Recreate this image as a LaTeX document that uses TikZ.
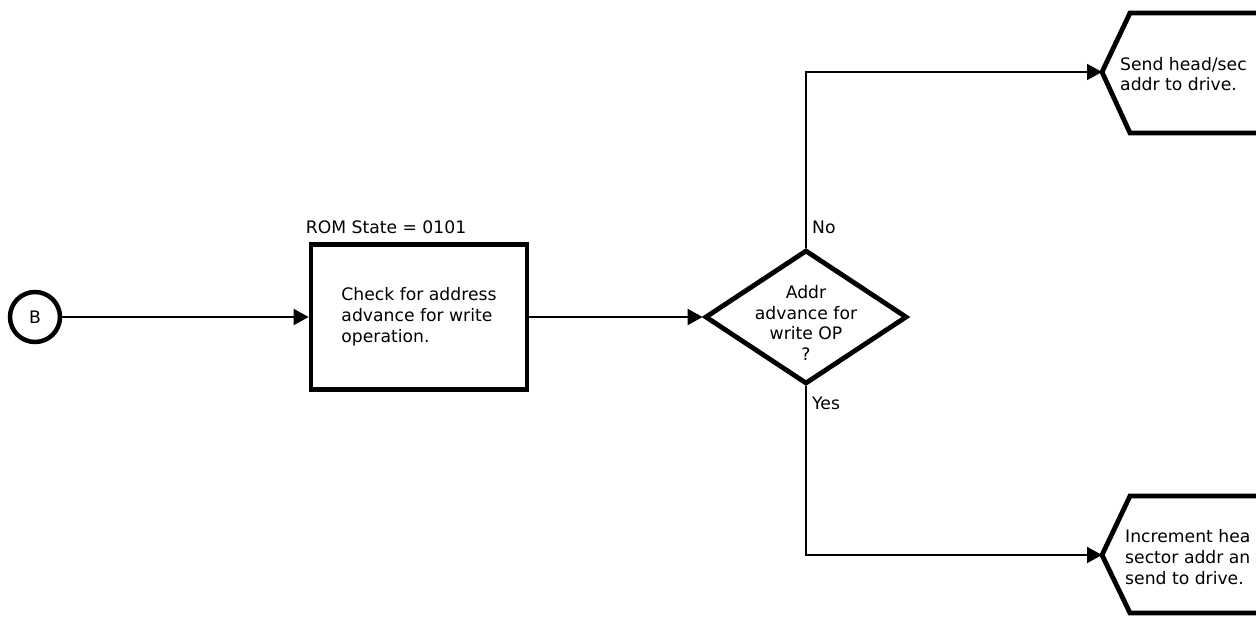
\documentclass[tikz,border=0pt]{standalone}
\usepackage{fontspec}
\setmainfont{DejaVu Sans}
\usetikzlibrary{shapes.geometric,arrows.meta}

\begin{document}
\begin{tikzpicture}[x=1pt,y=-1pt,
    font=\fontsize{17.2}{20.8}\selectfont,
    flowarrow/.style={line width=2pt,-{Triangle[length=15pt,width=16pt]}},
    thickline/.style={line width=4.8pt,line join=miter}
  ]
            \useasboundingbox (0,0) rectangle (1256,616);
            \clip (0,0) rectangle (1256,616);
            % entry connector and check box
            \node[circle,draw,line width=4.5pt,minimum size=50pt,inner sep=0pt] (b) at (35,317) {B};
            \node[draw,thickline,minimum width=216pt,minimum height=145pt,align=left] (check) at (419,317)
              {Check for address\\advance for write\\operation.};
            \node[anchor=base west,inner sep=0pt] (rom) at ([xshift=-3pt,yshift=9pt]check.north west) {ROM State = 0101};
            % decision
            \node[diamond,draw,thickline,minimum width=202pt,minimum height=134pt,inner sep=0pt] (dec) at (806,317) {};
            \node[align=center,inner sep=0pt] (dectext) at (806,323) {Addr\\advance for\\write OP\\?};
            \node[anchor=west,inner sep=0pt] (no) at ([xshift=6pt,yshift=20pt]dec.north) {No};
            \node[anchor=west,inner sep=0pt] (yes) at ([xshift=6pt,yshift=-17pt]dec.south) {Yes};
            % targets, cut off at the right
            \coordinate (send) at (1102,72);
            \coordinate (incr) at (1102,555);
            \draw[thickline] (1270,13) -- (1130,13) -- (send) -- (1130,133) -- (1270,133);
            \draw[thickline] (1270,496) -- (1130,496) -- (incr) -- (1130,613) -- (1270,613);
            \node[anchor=west,align=left,inner sep=0pt] (sendtext) at (1120,74) {Send head/sec\\addr to drive.};
            \node[anchor=west,align=left,inner sep=0pt] (incrtext) at (1125,557) {Increment hea\\sector addr an\\send to drive.};
            % connectors
            \draw[flowarrow] (b) -- (check);
            \draw[flowarrow] (check) -- (dec);
            \draw[flowarrow] (dec.north) |- (send);
            \draw[flowarrow] (dec.south) |- (incr);
          \end{tikzpicture}
\end{document}
